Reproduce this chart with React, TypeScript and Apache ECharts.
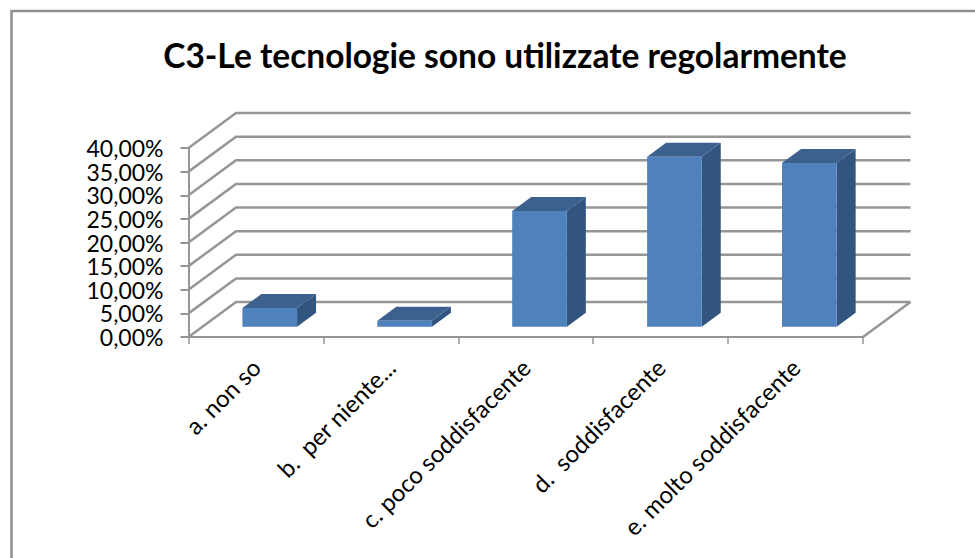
import React, { useEffect, useRef } from "react";
import * as echarts from "echarts";

const categories = [
  "a. non so",
  "b.  per niente...",
  "c. poco soddisfacente",
  "d.  soddisfacente",
  "e. molto soddisfacente",
];
const values = [4.0, 1.3, 24.5, 36.0, 34.7];
const yTicks = [0, 5, 10, 15, 20, 25, 30, 35, 40];
const titleText = "C3-Le tecnologie sono utilizzate regolarmente";

const FONT = "Lato, Carlito, sans-serif";
const LINE = "#969696";
const WALL_DX = 47.5;
const WALL_DY = -35;
const BAR_NEAR = 0.29;
const BAR_FAR = 0.69;
const BAR_WIDTH = 0.405;

export default function App() {
  const ref = useRef<HTMLDivElement>(null);
  useEffect(() => {
    document.body.style.margin = "0";
    const chart = echarts.init(ref.current!, undefined, { renderer: "svg" });
    chart.setOption({
      animation: false,
      backgroundColor: "#ffffff",
      title: {
        text: titleText,
        left: 500,
        top: 33,
        textAlign: "center",
        textStyle: { fontFamily: FONT, fontWeight: "bold", fontSize: 33.5, color: "#000" },
      },
      graphic: [
        {
          type: "rect",
          shape: { x: 11.5, y: 11, width: 1000, height: 600 },
          style: { fill: "none", stroke: "#8f8f8f", lineWidth: 2.5 },
          silent: true,
        },
      ],
      grid: { left: 188.5, right: 112, top: 148, bottom: 221 },
      xAxis: {
        type: "category",
        data: categories,
        boundaryGap: true,
        axisLine: { show: true, lineStyle: { color: LINE, width: 2 } },
        axisTick: { show: true, length: 7, lineStyle: { color: LINE, width: 1.5 } },
        axisLabel: {
          interval: 0,
          rotate: 45,
          margin: 26,
          fontFamily: FONT,
          fontSize: 24,
          color: "#000",
        },
      },
      yAxis: {
        type: "value",
        min: 0,
        max: 40,
        interval: 5,
        splitLine: { show: false },
        axisLine: { show: true, lineStyle: { color: LINE, width: 2 } },
        axisTick: { show: true, length: 8, lineStyle: { color: LINE, width: 2 } },
        axisLabel: {
          margin: 25,
          showMinLabel: true,
          showMaxLabel: true,
          hideOverlap: false,
          fontFamily: FONT,
          fontSize: 23,
          lineHeight: 22,
          color: "#000",
          formatter: (v: number) => v.toFixed(2).replace(".", ",") + "%",
        },
      },
      series: [
        {
          type: "custom",
          coordinateSystem: "cartesian2d",
          z: 1,
          silent: true,
          data: yTicks.map((t) => [0, t]),
          encode: { x: 0, y: 1 },
          renderItem: (params: any, api: any) => {
            const cs = params.coordSys;
            const y = api.coord([0, api.value(1)])[1];
            const style = { stroke: LINE, lineWidth: 2.5, fill: "none" };
            const pts: number[][] = [
              [cs.x, y],
              [cs.x + WALL_DX, y + WALL_DY],
              [cs.x + cs.width + WALL_DX, y + WALL_DY],
            ];
            const children: any[] = [{ type: "polyline", shape: { points: pts }, style }];
            if (api.value(1) === 0) {
              children.push({
                type: "line",
                shape: {
                  x1: cs.x + cs.width,
                  y1: y,
                  x2: cs.x + cs.width + WALL_DX,
                  y2: y + WALL_DY,
                },
                style,
              });
            }
            return { type: "group", children };
          },
        },
        {
          type: "custom",
          coordinateSystem: "cartesian2d",
          z: 3,
          silent: true,
          data: values.map((v, i) => [i, v]),
          encode: { x: 0, y: 1 },
          renderItem: (_params: any, api: any) => {
            const top = api.coord([api.value(0), api.value(1)]);
            const base = api.coord([api.value(0), 0]);
            const band = api.size([1, 0])[0];
            const w = band * BAR_WIDTH;
            const x0 = base[0] - w / 2 + WALL_DX * BAR_NEAR;
            const x1 = x0 + w;
            const yb = base[1] + WALL_DY * BAR_NEAR;
            const yt = top[1] + WALL_DY * BAR_NEAR;
            const dx = WALL_DX * (BAR_FAR - BAR_NEAR);
            const dy = WALL_DY * (BAR_FAR - BAR_NEAR);
            return {
              type: "group",
              children: [
                {
                  type: "polygon",
                  shape: { points: [[x1, yt], [x1 + dx, yt + dy], [x1 + dx, yb + dy], [x1, yb]] },
                  style: { fill: "#31557F" },
                },
                {
                  type: "polygon",
                  shape: { points: [[x0, yt], [x0 + dx, yt + dy], [x1 + dx, yt + dy], [x1, yt]] },
                  style: { fill: "#3C618F" },
                },
                {
                  type: "rect",
                  shape: { x: x0, y: yt, width: w, height: yb - yt },
                  style: { fill: "#4F81BD" },
                },
              ],
            };
          },
        },
      ],
    });
    return () => chart.dispose();
  }, []);
  return <div ref={ref} style={{ width: 975, height: 558 }} />;
}
